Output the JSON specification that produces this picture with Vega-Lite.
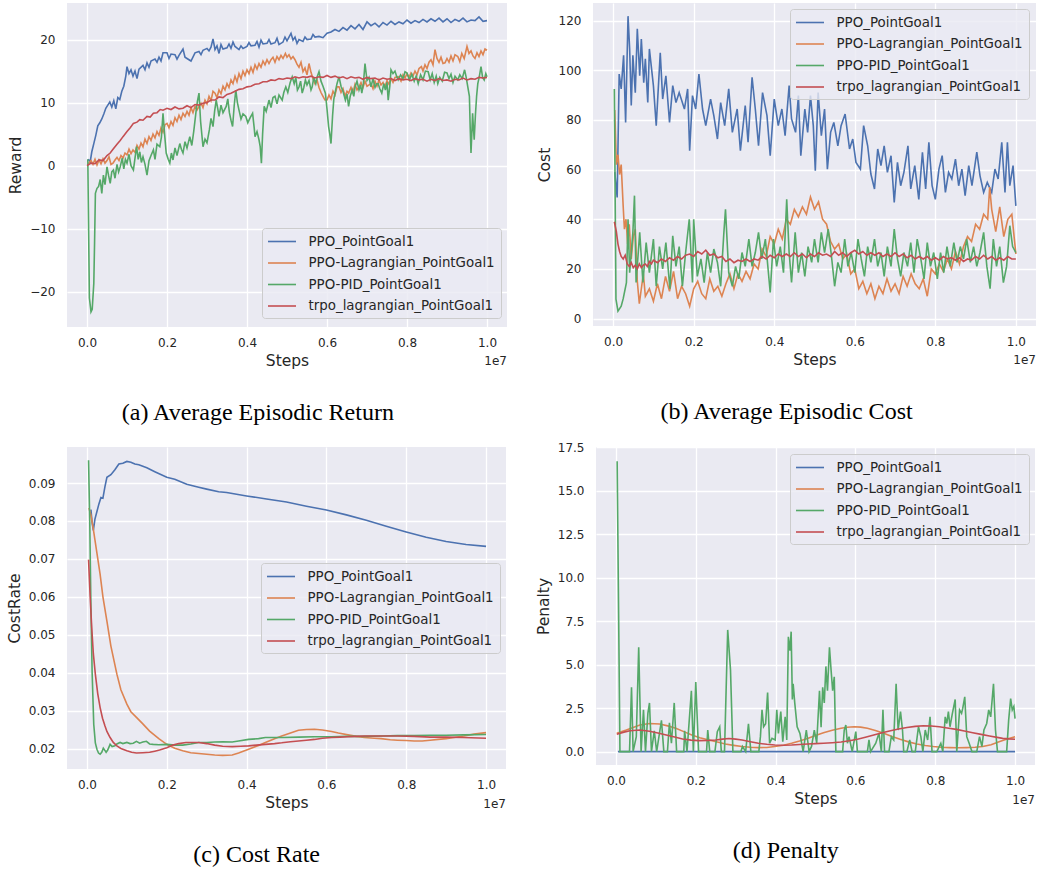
{
"$schema": "https://vega.github.io/schema/vega-lite/v6.json",
"background": "white",
"padding": {"left": 7, "top": 3, "right": 0, "bottom": 0},
"config": {
 "view": {"fill": "#EAEAF2", "stroke": null},
 "axis": {"domain": false, "ticks": false, "grid": true, "gridColor": "white", "gridWidth": 1.3, "labelFont": "DejaVu Sans", "labelFontSize": 12, "labelColor": "#262626", "titleFont": "DejaVu Sans", "titleFontSize": 15.5, "titleFontWeight": "normal", "titleColor": "#262626", "labelOverlap": false, "labelFlush": false},
 "axisX": {"labelPadding": 10, "titlePadding": 5},
 "axisY": {"labelPadding": 12, "titlePadding": 6},
 "legend": {"labelFont": "DejaVu Sans", "labelFontSize": 13.4, "labelColor": "#262626", "labelLimit": 400, "symbolSize": 196, "symbolStrokeWidth": 1.6, "fillColor": "rgba(234,234,242,0.8)", "strokeColor": "#CCCCCC", "cornerRadius": 3, "padding": 5.5, "rowPadding": 6.5, "labelOffset": 18.5, "symbolOffset": 6.5},
 "line": {"strokeWidth": 1.6},
 "title": {"font": "Liberation Serif", "fontSize": 24, "fontWeight": "normal", "color": "black", "orient": "bottom", "anchor": "middle", "frame": "bounds", "offset": 32}
},
"datasets": {
"a_ppo": [{"x":0.003,"y":1.0},{"x":0.008,"y":0.6},{"x":0.012,"y":2.2},{"x":0.017,"y":3.5},{"x":0.022,"y":4.8},{"x":0.027,"y":6.3},{"x":0.032,"y":6.8},{"x":0.037,"y":7.4},{"x":0.042,"y":8.2},{"x":0.047,"y":9.1},{"x":0.052,"y":9.6},{"x":0.057,"y":10.1},{"x":0.062,"y":9.3},{"x":0.067,"y":10.3},{"x":0.072,"y":9.0},{"x":0.077,"y":10.8},{"x":0.082,"y":10.5},{"x":0.087,"y":11.8},{"x":0.092,"y":12.6},{"x":0.097,"y":14.2},{"x":0.1,"y":15.7},{"x":0.105,"y":14.6},{"x":0.11,"y":15.2},{"x":0.115,"y":14.2},{"x":0.12,"y":15.0},{"x":0.125,"y":13.8},{"x":0.13,"y":15.3},{"x":0.14,"y":15.9},{"x":0.145,"y":15.2},{"x":0.15,"y":16.3},{"x":0.155,"y":15.6},{"x":0.16,"y":16.6},{"x":0.17,"y":16.9},{"x":0.175,"y":16.4},{"x":0.18,"y":17.2},{"x":0.185,"y":16.6},{"x":0.19,"y":17.9},{"x":0.2,"y":17.9},{"x":0.205,"y":17.0},{"x":0.21,"y":17.7},{"x":0.22,"y":17.6},{"x":0.225,"y":16.9},{"x":0.23,"y":17.5},{"x":0.24,"y":18.5},{"x":0.245,"y":17.2},{"x":0.25,"y":17.0},{"x":0.26,"y":16.6},{"x":0.27,"y":17.9},{"x":0.28,"y":18.1},{"x":0.285,"y":17.6},{"x":0.29,"y":18.3},{"x":0.3,"y":18.6},{"x":0.305,"y":18.2},{"x":0.31,"y":18.8},{"x":0.315,"y":20.1},{"x":0.32,"y":18.4},{"x":0.325,"y":19.0},{"x":0.33,"y":17.8},{"x":0.335,"y":19.2},{"x":0.34,"y":18.5},{"x":0.35,"y":18.7},{"x":0.355,"y":19.3},{"x":0.36,"y":18.6},{"x":0.365,"y":19.6},{"x":0.37,"y":18.9},{"x":0.38,"y":18.4},{"x":0.385,"y":19.0},{"x":0.39,"y":18.6},{"x":0.4,"y":18.9},{"x":0.405,"y":19.5},{"x":0.41,"y":19.0},{"x":0.42,"y":19.1},{"x":0.425,"y":19.7},{"x":0.43,"y":18.8},{"x":0.435,"y":19.9},{"x":0.44,"y":19.3},{"x":0.45,"y":19.4},{"x":0.455,"y":20.0},{"x":0.46,"y":19.3},{"x":0.47,"y":19.5},{"x":0.475,"y":20.2},{"x":0.48,"y":19.2},{"x":0.49,"y":19.6},{"x":0.495,"y":20.4},{"x":0.5,"y":19.8},{"x":0.51,"y":21.0},{"x":0.515,"y":19.9},{"x":0.52,"y":20.4},{"x":0.525,"y":19.4},{"x":0.53,"y":20.0},{"x":0.54,"y":19.7},{"x":0.545,"y":20.4},{"x":0.55,"y":20.0},{"x":0.56,"y":20.1},{"x":0.565,"y":20.8},{"x":0.57,"y":20.4},{"x":0.58,"y":20.5},{"x":0.59,"y":20.3},{"x":0.6,"y":21.0},{"x":0.61,"y":21.2},{"x":0.62,"y":21.6},{"x":0.63,"y":21.3},{"x":0.64,"y":21.9},{"x":0.65,"y":21.5},{"x":0.66,"y":22.2},{"x":0.67,"y":21.7},{"x":0.68,"y":22.4},{"x":0.69,"y":21.6},{"x":0.7,"y":22.8},{"x":0.71,"y":22.2},{"x":0.72,"y":22.6},{"x":0.73,"y":22.0},{"x":0.74,"y":22.7},{"x":0.75,"y":22.3},{"x":0.76,"y":22.9},{"x":0.77,"y":22.4},{"x":0.78,"y":22.8},{"x":0.79,"y":22.5},{"x":0.8,"y":23.1},{"x":0.81,"y":22.6},{"x":0.82,"y":23.0},{"x":0.83,"y":22.7},{"x":0.84,"y":23.2},{"x":0.85,"y":22.8},{"x":0.86,"y":23.3},{"x":0.87,"y":22.9},{"x":0.88,"y":23.4},{"x":0.89,"y":22.8},{"x":0.9,"y":23.3},{"x":0.91,"y":22.7},{"x":0.92,"y":23.2},{"x":0.93,"y":22.9},{"x":0.94,"y":23.4},{"x":0.95,"y":22.8},{"x":0.96,"y":23.1},{"x":0.97,"y":23.0},{"x":0.98,"y":23.6},{"x":0.99,"y":22.9},{"x":1.0,"y":23.0}],
"a_lag": [{"x":0.003,"y":0.3},{"x":0.01,"y":0.8},{"x":0.015,"y":0.2},{"x":0.02,"y":1.0},{"x":0.025,"y":0.1},{"x":0.03,"y":0.9},{"x":0.035,"y":0.3},{"x":0.04,"y":1.1},{"x":0.045,"y":0.4},{"x":0.05,"y":0.8},{"x":0.055,"y":1.4},{"x":0.06,"y":0.2},{"x":0.065,"y":0.4},{"x":0.07,"y":0.9},{"x":0.075,"y":1.3},{"x":0.08,"y":0.8},{"x":0.085,"y":1.6},{"x":0.09,"y":1.2},{"x":0.095,"y":2.0},{"x":0.1,"y":1.7},{"x":0.105,"y":2.6},{"x":0.11,"y":1.9},{"x":0.115,"y":2.5},{"x":0.12,"y":2.1},{"x":0.125,"y":3.2},{"x":0.13,"y":2.6},{"x":0.135,"y":3.6},{"x":0.14,"y":3.0},{"x":0.145,"y":4.2},{"x":0.15,"y":3.5},{"x":0.155,"y":4.6},{"x":0.16,"y":4.0},{"x":0.165,"y":5.0},{"x":0.17,"y":4.4},{"x":0.175,"y":5.4},{"x":0.18,"y":4.8},{"x":0.185,"y":6.0},{"x":0.19,"y":5.3},{"x":0.195,"y":6.5},{"x":0.2,"y":6.7},{"x":0.205,"y":6.0},{"x":0.21,"y":7.0},{"x":0.215,"y":6.4},{"x":0.22,"y":7.6},{"x":0.225,"y":7.0},{"x":0.23,"y":8.0},{"x":0.235,"y":7.3},{"x":0.24,"y":8.3},{"x":0.245,"y":7.8},{"x":0.25,"y":8.6},{"x":0.255,"y":8.0},{"x":0.26,"y":9.2},{"x":0.265,"y":8.4},{"x":0.27,"y":9.4},{"x":0.275,"y":8.8},{"x":0.28,"y":9.4},{"x":0.285,"y":9.9},{"x":0.29,"y":9.2},{"x":0.295,"y":10.4},{"x":0.3,"y":9.8},{"x":0.305,"y":11.0},{"x":0.31,"y":10.3},{"x":0.315,"y":11.8},{"x":0.32,"y":11.5},{"x":0.325,"y":10.8},{"x":0.33,"y":12.0},{"x":0.335,"y":11.4},{"x":0.34,"y":12.6},{"x":0.345,"y":12.0},{"x":0.35,"y":13.0},{"x":0.355,"y":12.4},{"x":0.36,"y":13.6},{"x":0.365,"y":13.0},{"x":0.37,"y":14.2},{"x":0.375,"y":13.3},{"x":0.38,"y":14.6},{"x":0.385,"y":13.8},{"x":0.39,"y":15.0},{"x":0.395,"y":14.3},{"x":0.4,"y":15.2},{"x":0.405,"y":14.6},{"x":0.41,"y":15.6},{"x":0.415,"y":14.8},{"x":0.42,"y":16.0},{"x":0.425,"y":15.3},{"x":0.43,"y":16.2},{"x":0.435,"y":15.6},{"x":0.44,"y":16.6},{"x":0.445,"y":16.0},{"x":0.45,"y":16.8},{"x":0.455,"y":16.2},{"x":0.46,"y":16.8},{"x":0.465,"y":17.2},{"x":0.47,"y":16.4},{"x":0.475,"y":17.3},{"x":0.48,"y":16.8},{"x":0.485,"y":17.5},{"x":0.49,"y":17.0},{"x":0.496,"y":17.8},{"x":0.5,"y":17.2},{"x":0.505,"y":17.6},{"x":0.51,"y":16.9},{"x":0.515,"y":17.3},{"x":0.52,"y":16.8},{"x":0.525,"y":16.1},{"x":0.53,"y":15.6},{"x":0.535,"y":16.4},{"x":0.54,"y":14.9},{"x":0.545,"y":15.5},{"x":0.55,"y":14.4},{"x":0.555,"y":16.2},{"x":0.56,"y":14.8},{"x":0.565,"y":13.8},{"x":0.57,"y":13.0},{"x":0.575,"y":13.6},{"x":0.58,"y":12.4},{"x":0.585,"y":11.6},{"x":0.59,"y":11.0},{"x":0.595,"y":10.4},{"x":0.6,"y":10.4},{"x":0.605,"y":11.2},{"x":0.61,"y":10.6},{"x":0.615,"y":11.8},{"x":0.62,"y":11.2},{"x":0.625,"y":12.5},{"x":0.63,"y":12.5},{"x":0.635,"y":11.6},{"x":0.64,"y":12.2},{"x":0.645,"y":11.0},{"x":0.65,"y":11.8},{"x":0.654,"y":11.5},{"x":0.66,"y":12.4},{"x":0.665,"y":11.6},{"x":0.67,"y":12.9},{"x":0.675,"y":12.0},{"x":0.68,"y":12.5},{"x":0.685,"y":13.2},{"x":0.69,"y":12.4},{"x":0.695,"y":13.4},{"x":0.7,"y":12.6},{"x":0.71,"y":13.0},{"x":0.715,"y":12.2},{"x":0.72,"y":13.4},{"x":0.725,"y":12.6},{"x":0.73,"y":13.6},{"x":0.735,"y":12.8},{"x":0.74,"y":13.2},{"x":0.745,"y":12.5},{"x":0.75,"y":13.5},{"x":0.755,"y":12.9},{"x":0.76,"y":13.8},{"x":0.765,"y":13.2},{"x":0.77,"y":14.0},{"x":0.778,"y":14.1},{"x":0.785,"y":13.4},{"x":0.79,"y":14.4},{"x":0.795,"y":13.9},{"x":0.8,"y":14.6},{"x":0.805,"y":14.0},{"x":0.81,"y":14.7},{"x":0.815,"y":14.2},{"x":0.82,"y":15.0},{"x":0.825,"y":14.4},{"x":0.83,"y":15.4},{"x":0.836,"y":15.7},{"x":0.84,"y":15.0},{"x":0.845,"y":16.0},{"x":0.85,"y":15.4},{"x":0.855,"y":16.4},{"x":0.86,"y":16.8},{"x":0.865,"y":16.0},{"x":0.87,"y":18.4},{"x":0.875,"y":17.0},{"x":0.88,"y":16.4},{"x":0.885,"y":17.2},{"x":0.89,"y":16.2},{"x":0.895,"y":16.3},{"x":0.9,"y":17.0},{"x":0.905,"y":16.4},{"x":0.91,"y":17.4},{"x":0.915,"y":16.6},{"x":0.92,"y":17.6},{"x":0.927,"y":17.3},{"x":0.932,"y":16.5},{"x":0.937,"y":17.8},{"x":0.943,"y":17.0},{"x":0.95,"y":18.9},{"x":0.955,"y":17.8},{"x":0.96,"y":18.2},{"x":0.965,"y":17.4},{"x":0.97,"y":17.0},{"x":0.975,"y":17.9},{"x":0.98,"y":17.3},{"x":0.985,"y":18.2},{"x":0.99,"y":17.6},{"x":0.995,"y":18.5},{"x":1.0,"y":18.3}],
"a_pid": [{"x":0.002,"y":1.0},{"x":0.004,"y":-10},{"x":0.006,"y":-21},{"x":0.01,"y":-23.2},{"x":0.013,"y":-22.8},{"x":0.017,"y":-18.7},{"x":0.019,"y":-12},{"x":0.021,"y":-4.4},{"x":0.025,"y":-3.6},{"x":0.029,"y":-3.3},{"x":0.033,"y":-2.2},{"x":0.037,"y":-4.4},{"x":0.041,"y":-1.5},{"x":0.045,"y":-3.0},{"x":0.05,"y":-0.2},{"x":0.054,"y":-1.6},{"x":0.058,"y":-2.8},{"x":0.062,"y":-1.0},{"x":0.066,"y":-0.7},{"x":0.07,"y":-2.0},{"x":0.075,"y":0.2},{"x":0.079,"y":-1.0},{"x":0.083,"y":-0.2},{"x":0.088,"y":1.2},{"x":0.092,"y":-0.5},{"x":0.096,"y":1.0},{"x":0.1,"y":0.4},{"x":0.105,"y":1.8},{"x":0.11,"y":0.0},{"x":0.116,"y":-0.7},{"x":0.12,"y":1.2},{"x":0.124,"y":3.0},{"x":0.128,"y":1.0},{"x":0.132,"y":2.2},{"x":0.136,"y":0.5},{"x":0.14,"y":1.4},{"x":0.145,"y":0.2},{"x":0.15,"y":-1.5},{"x":0.155,"y":0.8},{"x":0.16,"y":1.6},{"x":0.166,"y":2.5},{"x":0.17,"y":1.0},{"x":0.175,"y":3.4},{"x":0.182,"y":3.0},{"x":0.186,"y":4.5},{"x":0.19,"y":8.3},{"x":0.194,"y":5.0},{"x":0.198,"y":2.0},{"x":0.203,"y":1.0},{"x":0.207,"y":0.4},{"x":0.211,"y":2.0},{"x":0.215,"y":0.9},{"x":0.22,"y":2.8},{"x":0.225,"y":1.6},{"x":0.232,"y":3.5},{"x":0.236,"y":2.6},{"x":0.24,"y":2.0},{"x":0.245,"y":3.8},{"x":0.25,"y":2.8},{"x":0.257,"y":4.6},{"x":0.262,"y":3.2},{"x":0.267,"y":5.5},{"x":0.273,"y":8.8},{"x":0.276,"y":10.2},{"x":0.28,"y":11.5},{"x":0.284,"y":7.0},{"x":0.29,"y":3.0},{"x":0.295,"y":4.2},{"x":0.3,"y":3.6},{"x":0.306,"y":5.7},{"x":0.31,"y":7.5},{"x":0.315,"y":6.2},{"x":0.319,"y":8.6},{"x":0.323,"y":10.4},{"x":0.327,"y":9.0},{"x":0.33,"y":7.8},{"x":0.335,"y":9.6},{"x":0.34,"y":8.4},{"x":0.348,"y":9.4},{"x":0.352,"y":10.6},{"x":0.356,"y":8.4},{"x":0.36,"y":7.2},{"x":0.364,"y":6.2},{"x":0.368,"y":9.5},{"x":0.372,"y":12.0},{"x":0.376,"y":10.0},{"x":0.38,"y":8.8},{"x":0.385,"y":7.4},{"x":0.39,"y":8.2},{"x":0.397,"y":7.8},{"x":0.402,"y":6.8},{"x":0.408,"y":7.6},{"x":0.414,"y":8.3},{"x":0.418,"y":6.0},{"x":0.42,"y":4.6},{"x":0.425,"y":5.4},{"x":0.43,"y":4.1},{"x":0.433,"y":3.0},{"x":0.436,"y":0.4},{"x":0.439,"y":5.0},{"x":0.443,"y":9.4},{"x":0.448,"y":8.6},{"x":0.455,"y":10.4},{"x":0.46,"y":9.2},{"x":0.465,"y":10.8},{"x":0.47,"y":11.0},{"x":0.475,"y":9.8},{"x":0.48,"y":11.2},{"x":0.488,"y":10.4},{"x":0.492,"y":11.6},{"x":0.497,"y":12.5},{"x":0.502,"y":11.6},{"x":0.508,"y":13.2},{"x":0.513,"y":14.1},{"x":0.518,"y":13.0},{"x":0.522,"y":14.0},{"x":0.526,"y":12.0},{"x":0.53,"y":12.5},{"x":0.534,"y":13.4},{"x":0.538,"y":11.5},{"x":0.542,"y":12.4},{"x":0.546,"y":13.6},{"x":0.55,"y":12.8},{"x":0.555,"y":13.5},{"x":0.56,"y":12.0},{"x":0.563,"y":12.5},{"x":0.567,"y":14.0},{"x":0.572,"y":13.0},{"x":0.576,"y":14.2},{"x":0.58,"y":14.9},{"x":0.585,"y":13.4},{"x":0.59,"y":12.6},{"x":0.596,"y":11.5},{"x":0.6,"y":9.0},{"x":0.604,"y":6.2},{"x":0.607,"y":5.0},{"x":0.61,"y":3.5},{"x":0.614,"y":8.0},{"x":0.617,"y":10.5},{"x":0.62,"y":11.5},{"x":0.625,"y":13.0},{"x":0.63,"y":14.1},{"x":0.635,"y":12.6},{"x":0.64,"y":11.8},{"x":0.646,"y":10.4},{"x":0.65,"y":11.4},{"x":0.654,"y":9.4},{"x":0.658,"y":11.0},{"x":0.663,"y":12.0},{"x":0.667,"y":11.0},{"x":0.67,"y":12.5},{"x":0.675,"y":13.4},{"x":0.68,"y":12.0},{"x":0.684,"y":12.8},{"x":0.687,"y":11.5},{"x":0.691,"y":13.0},{"x":0.695,"y":16.2},{"x":0.7,"y":13.5},{"x":0.705,"y":14.0},{"x":0.71,"y":12.5},{"x":0.715,"y":13.8},{"x":0.72,"y":12.4},{"x":0.724,"y":13.0},{"x":0.728,"y":13.0},{"x":0.732,"y":12.2},{"x":0.737,"y":11.5},{"x":0.742,"y":13.0},{"x":0.746,"y":12.0},{"x":0.75,"y":13.2},{"x":0.753,"y":10.4},{"x":0.757,"y":12.6},{"x":0.76,"y":15.2},{"x":0.765,"y":14.6},{"x":0.77,"y":15.0},{"x":0.774,"y":14.2},{"x":0.778,"y":13.6},{"x":0.784,"y":14.4},{"x":0.79,"y":13.8},{"x":0.795,"y":14.9},{"x":0.8,"y":14.7},{"x":0.806,"y":13.6},{"x":0.812,"y":14.5},{"x":0.818,"y":13.4},{"x":0.823,"y":14.2},{"x":0.828,"y":13.0},{"x":0.834,"y":14.4},{"x":0.84,"y":13.6},{"x":0.846,"y":15.0},{"x":0.853,"y":14.9},{"x":0.858,"y":13.6},{"x":0.863,"y":14.6},{"x":0.868,"y":13.2},{"x":0.873,"y":14.2},{"x":0.877,"y":13.0},{"x":0.882,"y":14.0},{"x":0.888,"y":13.4},{"x":0.894,"y":14.8},{"x":0.9,"y":14.7},{"x":0.905,"y":13.8},{"x":0.91,"y":14.5},{"x":0.915,"y":13.2},{"x":0.92,"y":14.2},{"x":0.927,"y":13.6},{"x":0.932,"y":14.4},{"x":0.938,"y":13.8},{"x":0.944,"y":15.2},{"x":0.948,"y":14.0},{"x":0.952,"y":12.5},{"x":0.956,"y":11.0},{"x":0.958,"y":6.0},{"x":0.96,"y":2.0},{"x":0.962,"y":5.0},{"x":0.964,"y":8.3},{"x":0.966,"y":6.0},{"x":0.968,"y":4.1},{"x":0.971,"y":8.0},{"x":0.974,"y":11.0},{"x":0.977,"y":13.0},{"x":0.981,"y":14.2},{"x":0.985,"y":15.7},{"x":0.989,"y":14.0},{"x":0.993,"y":13.6},{"x":0.997,"y":14.6},{"x":1.0,"y":14.1}],
"a_trpo": [{"x":0.0,"y":0.0},{"x":0.01,"y":0.4},{"x":0.02,"y":0.3},{"x":0.03,"y":0.9},{"x":0.04,"y":0.8},{"x":0.05,"y":1.6},{"x":0.058,"y":2.0},{"x":0.065,"y":2.6},{"x":0.075,"y":3.4},{"x":0.083,"y":4.0},{"x":0.09,"y":4.6},{"x":0.1,"y":5.4},{"x":0.108,"y":6.0},{"x":0.116,"y":6.7},{"x":0.125,"y":6.9},{"x":0.132,"y":7.3},{"x":0.14,"y":7.2},{"x":0.15,"y":7.8},{"x":0.158,"y":7.7},{"x":0.166,"y":8.3},{"x":0.175,"y":8.4},{"x":0.183,"y":8.9},{"x":0.19,"y":8.8},{"x":0.2,"y":9.1},{"x":0.21,"y":8.9},{"x":0.22,"y":9.3},{"x":0.23,"y":9.0},{"x":0.24,"y":9.1},{"x":0.25,"y":9.5},{"x":0.26,"y":9.2},{"x":0.27,"y":9.7},{"x":0.28,"y":9.6},{"x":0.29,"y":9.9},{"x":0.3,"y":10.0},{"x":0.31,"y":10.4},{"x":0.32,"y":10.4},{"x":0.33,"y":10.9},{"x":0.34,"y":10.8},{"x":0.35,"y":11.3},{"x":0.36,"y":11.5},{"x":0.37,"y":11.8},{"x":0.38,"y":12.1},{"x":0.39,"y":12.2},{"x":0.4,"y":12.5},{"x":0.41,"y":12.6},{"x":0.42,"y":12.9},{"x":0.43,"y":13.0},{"x":0.44,"y":13.3},{"x":0.45,"y":13.3},{"x":0.46,"y":13.6},{"x":0.47,"y":13.5},{"x":0.48,"y":13.8},{"x":0.49,"y":13.7},{"x":0.5,"y":13.9},{"x":0.51,"y":13.8},{"x":0.52,"y":14.1},{"x":0.53,"y":13.9},{"x":0.54,"y":14.1},{"x":0.55,"y":14.0},{"x":0.56,"y":14.2},{"x":0.57,"y":13.9},{"x":0.58,"y":14.1},{"x":0.59,"y":14.0},{"x":0.6,"y":14.3},{"x":0.61,"y":14.0},{"x":0.62,"y":14.2},{"x":0.63,"y":13.9},{"x":0.64,"y":14.1},{"x":0.65,"y":13.8},{"x":0.66,"y":14.1},{"x":0.67,"y":13.9},{"x":0.68,"y":14.0},{"x":0.69,"y":13.7},{"x":0.7,"y":14.0},{"x":0.71,"y":13.8},{"x":0.72,"y":13.9},{"x":0.73,"y":13.6},{"x":0.74,"y":13.9},{"x":0.75,"y":13.7},{"x":0.76,"y":13.8},{"x":0.77,"y":13.5},{"x":0.78,"y":13.8},{"x":0.79,"y":13.6},{"x":0.8,"y":13.7},{"x":0.81,"y":13.5},{"x":0.82,"y":13.8},{"x":0.83,"y":13.6},{"x":0.84,"y":13.7},{"x":0.85,"y":13.4},{"x":0.86,"y":13.7},{"x":0.87,"y":13.5},{"x":0.88,"y":13.8},{"x":0.89,"y":13.5},{"x":0.9,"y":13.6},{"x":0.91,"y":13.4},{"x":0.92,"y":13.7},{"x":0.93,"y":13.6},{"x":0.94,"y":13.9},{"x":0.95,"y":13.6},{"x":0.96,"y":13.8},{"x":0.97,"y":13.7},{"x":0.98,"y":14.0},{"x":0.99,"y":13.9},{"x":1.0,"y":14.0}],
"b_ppo": [{"x":0.004,"y":59},{"x":0.01,"y":48.8},{"x":0.015,"y":98.5},{"x":0.02,"y":92.5},{"x":0.026,"y":106},{"x":0.031,"y":79},{"x":0.037,"y":121.8},{"x":0.041,"y":108.6},{"x":0.045,"y":85.8},{"x":0.049,"y":106},{"x":0.055,"y":91},{"x":0.06,"y":116.7},{"x":0.066,"y":97.8},{"x":0.07,"y":112.6},{"x":0.076,"y":95},{"x":0.08,"y":104.6},{"x":0.086,"y":87},{"x":0.09,"y":108.6},{"x":0.1,"y":93.8},{"x":0.107,"y":77.7},{"x":0.117,"y":107},{"x":0.123,"y":88.4},{"x":0.131,"y":97.8},{"x":0.14,"y":79},{"x":0.148,"y":93.8},{"x":0.156,"y":87},{"x":0.164,"y":91},{"x":0.177,"y":84.4},{"x":0.185,"y":92.5},{"x":0.19,"y":67.6},{"x":0.197,"y":89.8},{"x":0.205,"y":84.4},{"x":0.213,"y":98.5},{"x":0.222,"y":84.4},{"x":0.23,"y":77.7},{"x":0.242,"y":88.4},{"x":0.25,"y":81.7},{"x":0.259,"y":72.3},{"x":0.267,"y":87},{"x":0.277,"y":77.7},{"x":0.287,"y":92.5},{"x":0.296,"y":75},{"x":0.308,"y":84.4},{"x":0.316,"y":67.6},{"x":0.328,"y":85.8},{"x":0.335,"y":71},{"x":0.345,"y":97.2},{"x":0.353,"y":84.4},{"x":0.361,"y":69.6},{"x":0.371,"y":91},{"x":0.382,"y":81.7},{"x":0.39,"y":65.6},{"x":0.4,"y":88.4},{"x":0.41,"y":77.7},{"x":0.419,"y":84.4},{"x":0.427,"y":73.7},{"x":0.437,"y":93.8},{"x":0.443,"y":80.4},{"x":0.453,"y":75},{"x":0.46,"y":89.8},{"x":0.466,"y":65.6},{"x":0.476,"y":84.4},{"x":0.483,"y":75},{"x":0.49,"y":89.8},{"x":0.497,"y":77.7},{"x":0.502,"y":59.5},{"x":0.509,"y":91},{"x":0.517,"y":73.7},{"x":0.525,"y":84.4},{"x":0.532,"y":60.2},{"x":0.54,"y":75},{"x":0.548,"y":79},{"x":0.558,"y":69.6},{"x":0.566,"y":77.7},{"x":0.576,"y":82.4},{"x":0.587,"y":68.3},{"x":0.595,"y":72.3},{"x":0.603,"y":62.9},{"x":0.614,"y":60.2},{"x":0.622,"y":77.7},{"x":0.632,"y":69.6},{"x":0.64,"y":58.2},{"x":0.649,"y":52.2},{"x":0.657,"y":68.3},{"x":0.665,"y":61.6},{"x":0.673,"y":69.6},{"x":0.681,"y":58.9},{"x":0.69,"y":65.6},{"x":0.698,"y":46.8},{"x":0.706,"y":62.9},{"x":0.714,"y":53.5},{"x":0.722,"y":58.9},{"x":0.732,"y":69.6},{"x":0.739,"y":52.2},{"x":0.749,"y":61.6},{"x":0.759,"y":48},{"x":0.768,"y":67},{"x":0.776,"y":52.2},{"x":0.784,"y":71},{"x":0.792,"y":53.5},{"x":0.8,"y":48},{"x":0.809,"y":60.2},{"x":0.817,"y":65.6},{"x":0.825,"y":50.8},{"x":0.833,"y":58.9},{"x":0.841,"y":56.2},{"x":0.85,"y":64.2},{"x":0.858,"y":53.5},{"x":0.866,"y":60.2},{"x":0.874,"y":49.5},{"x":0.883,"y":61.6},{"x":0.891,"y":53.5},{"x":0.903,"y":67},{"x":0.911,"y":57.5},{"x":0.92,"y":50.8},{"x":0.929,"y":54.8},{"x":0.94,"y":50.8},{"x":0.948,"y":60.2},{"x":0.956,"y":56.2},{"x":0.965,"y":71},{"x":0.973,"y":50.8},{"x":0.979,"y":71},{"x":0.985,"y":53.5},{"x":0.993,"y":61.6},{"x":1.0,"y":45.4}],
"b_lag": [{"x":0.004,"y":84},{"x":0.008,"y":62},{"x":0.012,"y":66},{"x":0.016,"y":58},{"x":0.02,"y":62},{"x":0.025,"y":45},{"x":0.028,"y":36},{"x":0.032,"y":40},{"x":0.036,"y":30},{"x":0.04,"y":38},{"x":0.045,"y":24},{"x":0.05,"y":33},{"x":0.055,"y":36},{"x":0.06,"y":15},{"x":0.065,"y":6},{"x":0.07,"y":12},{"x":0.075,"y":18},{"x":0.08,"y":9},{"x":0.09,"y":12},{"x":0.1,"y":7},{"x":0.11,"y":14},{"x":0.12,"y":8},{"x":0.13,"y":17},{"x":0.14,"y":11},{"x":0.15,"y":19},{"x":0.16,"y":8},{"x":0.17,"y":13},{"x":0.18,"y":10},{"x":0.19,"y":5},{"x":0.2,"y":12},{"x":0.21,"y":15},{"x":0.22,"y":10},{"x":0.23,"y":8},{"x":0.24,"y":16},{"x":0.25,"y":11},{"x":0.26,"y":13},{"x":0.27,"y":9},{"x":0.28,"y":14},{"x":0.29,"y":18},{"x":0.3,"y":12},{"x":0.31,"y":18},{"x":0.32,"y":15},{"x":0.33,"y":19},{"x":0.34,"y":16},{"x":0.35,"y":22},{"x":0.36,"y":20},{"x":0.37,"y":28},{"x":0.38,"y":25},{"x":0.39,"y":33},{"x":0.4,"y":30},{"x":0.41,"y":36},{"x":0.42,"y":32},{"x":0.43,"y":40},{"x":0.44,"y":38},{"x":0.45,"y":44},{"x":0.46,"y":41},{"x":0.47,"y":45},{"x":0.48,"y":42},{"x":0.49,"y":49},{"x":0.5,"y":44},{"x":0.51,"y":47},{"x":0.52,"y":40},{"x":0.53,"y":38},{"x":0.54,"y":31},{"x":0.55,"y":28},{"x":0.56,"y":30},{"x":0.57,"y":24},{"x":0.58,"y":26},{"x":0.59,"y":18},{"x":0.6,"y":20},{"x":0.61,"y":12},{"x":0.62,"y":15},{"x":0.63,"y":10},{"x":0.64,"y":14},{"x":0.65,"y":8},{"x":0.66,"y":13},{"x":0.67,"y":10},{"x":0.68,"y":16},{"x":0.69,"y":11},{"x":0.7,"y":14},{"x":0.71,"y":10},{"x":0.72,"y":17},{"x":0.73,"y":13},{"x":0.74,"y":18},{"x":0.75,"y":14},{"x":0.76,"y":12},{"x":0.77,"y":16},{"x":0.78,"y":9},{"x":0.79,"y":20},{"x":0.8,"y":18},{"x":0.81,"y":22},{"x":0.82,"y":19},{"x":0.83,"y":24},{"x":0.84,"y":20},{"x":0.85,"y":27},{"x":0.86,"y":22},{"x":0.87,"y":29},{"x":0.88,"y":33},{"x":0.89,"y":31},{"x":0.9,"y":38},{"x":0.91,"y":36},{"x":0.92,"y":42},{"x":0.93,"y":40},{"x":0.935,"y":53},{"x":0.94,"y":44},{"x":0.95,"y":35},{"x":0.96,"y":45},{"x":0.97,"y":33},{"x":0.98,"y":40},{"x":0.99,"y":42},{"x":1.0,"y":26}],
"b_pid": [{"x":0.003,"y":92.5},{"x":0.007,"y":7.8},{"x":0.012,"y":3},{"x":0.02,"y":5},{"x":0.025,"y":8},{"x":0.033,"y":14.5},{"x":0.037,"y":40},{"x":0.041,"y":18.5},{"x":0.049,"y":34.7},{"x":0.053,"y":49.5},{"x":0.057,"y":14.5},{"x":0.066,"y":34.7},{"x":0.074,"y":14.5},{"x":0.082,"y":30.6},{"x":0.09,"y":18.5},{"x":0.1,"y":32},{"x":0.107,"y":13},{"x":0.115,"y":29},{"x":0.123,"y":20},{"x":0.131,"y":30.6},{"x":0.141,"y":12},{"x":0.148,"y":33.3},{"x":0.156,"y":21},{"x":0.164,"y":29},{"x":0.172,"y":13},{"x":0.18,"y":26.6},{"x":0.189,"y":40},{"x":0.197,"y":14.5},{"x":0.2,"y":40},{"x":0.209,"y":17},{"x":0.218,"y":24},{"x":0.226,"y":14.5},{"x":0.234,"y":26.6},{"x":0.242,"y":18.5},{"x":0.25,"y":28},{"x":0.259,"y":22.6},{"x":0.267,"y":13},{"x":0.275,"y":34.7},{"x":0.279,"y":44},{"x":0.287,"y":18.5},{"x":0.296,"y":13},{"x":0.304,"y":21},{"x":0.312,"y":16},{"x":0.32,"y":26.6},{"x":0.328,"y":21},{"x":0.337,"y":32},{"x":0.345,"y":21},{"x":0.353,"y":26.6},{"x":0.361,"y":34.7},{"x":0.369,"y":24},{"x":0.378,"y":32},{"x":0.39,"y":10.5},{"x":0.398,"y":32},{"x":0.406,"y":21},{"x":0.415,"y":29},{"x":0.423,"y":18.5},{"x":0.431,"y":48},{"x":0.437,"y":26.6},{"x":0.443,"y":14.5},{"x":0.452,"y":34.7},{"x":0.46,"y":18.5},{"x":0.468,"y":26.6},{"x":0.476,"y":17},{"x":0.484,"y":29},{"x":0.493,"y":22.6},{"x":0.5,"y":32},{"x":0.509,"y":22.6},{"x":0.517,"y":34.7},{"x":0.525,"y":26.6},{"x":0.534,"y":36},{"x":0.542,"y":25.3},{"x":0.55,"y":13},{"x":0.558,"y":22.6},{"x":0.566,"y":18.5},{"x":0.575,"y":32},{"x":0.583,"y":21},{"x":0.591,"y":26.6},{"x":0.6,"y":18.5},{"x":0.608,"y":32},{"x":0.616,"y":24},{"x":0.624,"y":17},{"x":0.632,"y":29},{"x":0.64,"y":22.6},{"x":0.649,"y":32},{"x":0.657,"y":21},{"x":0.665,"y":26.6},{"x":0.673,"y":17},{"x":0.681,"y":29},{"x":0.69,"y":21},{"x":0.698,"y":36},{"x":0.706,"y":24},{"x":0.714,"y":17},{"x":0.722,"y":26.6},{"x":0.731,"y":21},{"x":0.739,"y":30.6},{"x":0.747,"y":18.5},{"x":0.755,"y":32},{"x":0.764,"y":24},{"x":0.772,"y":16},{"x":0.78,"y":30.6},{"x":0.788,"y":21},{"x":0.796,"y":26.6},{"x":0.805,"y":16},{"x":0.813,"y":26.6},{"x":0.821,"y":18.5},{"x":0.829,"y":29},{"x":0.837,"y":21},{"x":0.846,"y":30.6},{"x":0.854,"y":22.6},{"x":0.862,"y":29},{"x":0.87,"y":24},{"x":0.878,"y":32},{"x":0.887,"y":22.6},{"x":0.895,"y":29},{"x":0.903,"y":21},{"x":0.911,"y":26.6},{"x":0.92,"y":34.7},{"x":0.928,"y":21},{"x":0.936,"y":12},{"x":0.944,"y":32},{"x":0.952,"y":21},{"x":0.96,"y":29},{"x":0.969,"y":14.5},{"x":0.977,"y":21},{"x":0.985,"y":37.4},{"x":0.992,"y":29},{"x":1.0,"y":26.6}],
"b_trpo": [{"x":0.003,"y":39},{"x":0.008,"y":35},{"x":0.012,"y":30},{"x":0.016,"y":27},{"x":0.02,"y":25},{"x":0.025,"y":24},{"x":0.03,"y":25.5},{"x":0.035,"y":22},{"x":0.04,"y":21},{"x":0.045,"y":22.5},{"x":0.05,"y":20.5},{"x":0.055,"y":21.5},{"x":0.06,"y":20},{"x":0.065,"y":22},{"x":0.07,"y":20.5},{"x":0.075,"y":21.5},{"x":0.08,"y":22},{"x":0.085,"y":21},{"x":0.09,"y":23},{"x":0.095,"y":22},{"x":0.1,"y":23.5},{"x":0.11,"y":22.5},{"x":0.12,"y":24},{"x":0.13,"y":23},{"x":0.14,"y":24.5},{"x":0.15,"y":23.5},{"x":0.16,"y":25},{"x":0.17,"y":24},{"x":0.18,"y":25.5},{"x":0.19,"y":26},{"x":0.2,"y":25},{"x":0.21,"y":27},{"x":0.22,"y":26},{"x":0.23,"y":27.5},{"x":0.24,"y":25.5},{"x":0.25,"y":26},{"x":0.26,"y":24.5},{"x":0.27,"y":25},{"x":0.28,"y":23},{"x":0.29,"y":24},{"x":0.3,"y":22.5},{"x":0.31,"y":23.5},{"x":0.32,"y":23},{"x":0.33,"y":24},{"x":0.34,"y":23},{"x":0.35,"y":24},{"x":0.36,"y":23.5},{"x":0.37,"y":25},{"x":0.38,"y":24},{"x":0.39,"y":25.5},{"x":0.4,"y":24.5},{"x":0.41,"y":26},{"x":0.42,"y":25},{"x":0.43,"y":26},{"x":0.44,"y":25},{"x":0.45,"y":26.5},{"x":0.46,"y":25},{"x":0.47,"y":26},{"x":0.48,"y":24.5},{"x":0.49,"y":26},{"x":0.5,"y":25},{"x":0.51,"y":26.5},{"x":0.52,"y":25.5},{"x":0.53,"y":26},{"x":0.54,"y":25},{"x":0.55,"y":27},{"x":0.56,"y":25.5},{"x":0.57,"y":26.5},{"x":0.58,"y":25},{"x":0.59,"y":26.5},{"x":0.6,"y":27.5},{"x":0.61,"y":26},{"x":0.62,"y":27},{"x":0.63,"y":25.5},{"x":0.64,"y":26.5},{"x":0.65,"y":25.5},{"x":0.66,"y":26.5},{"x":0.67,"y":25},{"x":0.68,"y":26},{"x":0.69,"y":25},{"x":0.7,"y":26.5},{"x":0.71,"y":25},{"x":0.72,"y":26},{"x":0.73,"y":24.5},{"x":0.74,"y":25.5},{"x":0.75,"y":24},{"x":0.76,"y":25},{"x":0.77,"y":24},{"x":0.78,"y":25},{"x":0.79,"y":23.5},{"x":0.8,"y":24.5},{"x":0.81,"y":23.5},{"x":0.82,"y":25},{"x":0.83,"y":24},{"x":0.84,"y":24.5},{"x":0.85,"y":23.5},{"x":0.86,"y":24.5},{"x":0.87,"y":23},{"x":0.88,"y":24},{"x":0.89,"y":23.5},{"x":0.9,"y":25},{"x":0.91,"y":24},{"x":0.92,"y":25.5},{"x":0.93,"y":24},{"x":0.94,"y":25},{"x":0.95,"y":23.5},{"x":0.96,"y":24.5},{"x":0.97,"y":23.5},{"x":0.98,"y":25},{"x":0.99,"y":24},{"x":1.0,"y":24}],
"c_ppo": [{"x":0.01,"y":0.083},{"x":0.013,"y":0.0795},{"x":0.016,"y":0.0775},{"x":0.02,"y":0.0805},{"x":0.025,"y":0.0825},{"x":0.03,"y":0.0845},{"x":0.035,"y":0.0862},{"x":0.04,"y":0.086},{"x":0.045,"y":0.089},{"x":0.05,"y":0.0915},{"x":0.06,"y":0.0922},{"x":0.07,"y":0.0935},{"x":0.08,"y":0.095},{"x":0.09,"y":0.0952},{"x":0.1,"y":0.0957},{"x":0.11,"y":0.0955},{"x":0.12,"y":0.095},{"x":0.13,"y":0.0948},{"x":0.15,"y":0.094},{"x":0.17,"y":0.093},{"x":0.2,"y":0.0915},{"x":0.22,"y":0.091},{"x":0.25,"y":0.0897},{"x":0.28,"y":0.0889},{"x":0.3,"y":0.0884},{"x":0.33,"y":0.0877},{"x":0.35,"y":0.0875},{"x":0.4,"y":0.0866},{"x":0.45,"y":0.0858},{"x":0.5,"y":0.085},{"x":0.55,"y":0.0839},{"x":0.6,"y":0.0829},{"x":0.65,"y":0.0816},{"x":0.7,"y":0.0802},{"x":0.75,"y":0.0786},{"x":0.8,"y":0.0771},{"x":0.85,"y":0.0757},{"x":0.9,"y":0.0746},{"x":0.95,"y":0.0738},{"x":1.0,"y":0.0733}],
"c_lag": [{"x":0.005,"y":0.0834},{"x":0.01,"y":0.0815},{"x":0.015,"y":0.0785},{"x":0.02,"y":0.075},{"x":0.025,"y":0.0715},{"x":0.033,"y":0.0659},{"x":0.04,"y":0.06},{"x":0.05,"y":0.0536},{"x":0.06,"y":0.047},{"x":0.075,"y":0.0396},{"x":0.085,"y":0.0355},{"x":0.1,"y":0.0317},{"x":0.11,"y":0.0297},{"x":0.124,"y":0.0282},{"x":0.14,"y":0.0265},{"x":0.157,"y":0.0246},{"x":0.18,"y":0.0226},{"x":0.2,"y":0.0211},{"x":0.22,"y":0.0201},{"x":0.24,"y":0.0194},{"x":0.26,"y":0.0189},{"x":0.28,"y":0.0187},{"x":0.3,"y":0.0185},{"x":0.32,"y":0.0183},{"x":0.34,"y":0.0182},{"x":0.364,"y":0.0183},{"x":0.38,"y":0.0188},{"x":0.405,"y":0.0198},{"x":0.43,"y":0.0208},{"x":0.447,"y":0.0216},{"x":0.47,"y":0.0226},{"x":0.488,"y":0.0233},{"x":0.51,"y":0.0241},{"x":0.53,"y":0.0248},{"x":0.55,"y":0.025},{"x":0.57,"y":0.0251},{"x":0.59,"y":0.0249},{"x":0.613,"y":0.0245},{"x":0.63,"y":0.0241},{"x":0.654,"y":0.0236},{"x":0.675,"y":0.0232},{"x":0.695,"y":0.0229},{"x":0.72,"y":0.0227},{"x":0.737,"y":0.0226},{"x":0.76,"y":0.0223},{"x":0.778,"y":0.0222},{"x":0.8,"y":0.0221},{"x":0.82,"y":0.022},{"x":0.84,"y":0.022},{"x":0.86,"y":0.0222},{"x":0.88,"y":0.0224},{"x":0.9,"y":0.0226},{"x":0.92,"y":0.0229},{"x":0.944,"y":0.0233},{"x":0.97,"y":0.0238},{"x":1.0,"y":0.0242}],
"c_pid": [{"x":0.004,"y":0.096},{"x":0.007,"y":0.08},{"x":0.01,"y":0.0571},{"x":0.013,"y":0.04},{"x":0.017,"y":0.0264},{"x":0.021,"y":0.0215},{"x":0.025,"y":0.0198},{"x":0.029,"y":0.0188},{"x":0.033,"y":0.0185},{"x":0.037,"y":0.019},{"x":0.041,"y":0.0201},{"x":0.045,"y":0.0195},{"x":0.048,"y":0.019},{"x":0.052,"y":0.0196},{"x":0.058,"y":0.0211},{"x":0.063,"y":0.0205},{"x":0.07,"y":0.0207},{"x":0.075,"y":0.0212},{"x":0.083,"y":0.0216},{"x":0.09,"y":0.0213},{"x":0.1,"y":0.0216},{"x":0.108,"y":0.0213},{"x":0.116,"y":0.0214},{"x":0.124,"y":0.0219},{"x":0.132,"y":0.0214},{"x":0.14,"y":0.0217},{"x":0.149,"y":0.0219},{"x":0.157,"y":0.0212},{"x":0.166,"y":0.0211},{"x":0.18,"y":0.021},{"x":0.2,"y":0.0211},{"x":0.22,"y":0.0209},{"x":0.24,"y":0.0209},{"x":0.26,"y":0.0212},{"x":0.28,"y":0.0216},{"x":0.3,"y":0.0216},{"x":0.32,"y":0.0217},{"x":0.34,"y":0.0218},{"x":0.364,"y":0.0217},{"x":0.38,"y":0.022},{"x":0.405,"y":0.0224},{"x":0.43,"y":0.0226},{"x":0.447,"y":0.0229},{"x":0.49,"y":0.0229},{"x":0.53,"y":0.023},{"x":0.57,"y":0.0231},{"x":0.613,"y":0.0231},{"x":0.65,"y":0.0232},{"x":0.695,"y":0.0232},{"x":0.74,"y":0.0233},{"x":0.778,"y":0.0234},{"x":0.82,"y":0.0234},{"x":0.86,"y":0.0235},{"x":0.9,"y":0.0235},{"x":0.944,"y":0.0236},{"x":1.0,"y":0.0237}],
"c_trpo": [{"x":0.004,"y":0.0698},{"x":0.008,"y":0.06},{"x":0.012,"y":0.0518},{"x":0.016,"y":0.045},{"x":0.021,"y":0.0396},{"x":0.027,"y":0.0345},{"x":0.033,"y":0.0308},{"x":0.039,"y":0.028},{"x":0.045,"y":0.026},{"x":0.05,"y":0.0245},{"x":0.058,"y":0.0229},{"x":0.066,"y":0.0216},{"x":0.075,"y":0.0207},{"x":0.085,"y":0.02},{"x":0.1,"y":0.0194},{"x":0.112,"y":0.019},{"x":0.124,"y":0.0188},{"x":0.14,"y":0.0189},{"x":0.157,"y":0.019},{"x":0.17,"y":0.0193},{"x":0.182,"y":0.0196},{"x":0.2,"y":0.0202},{"x":0.215,"y":0.0209},{"x":0.23,"y":0.0213},{"x":0.248,"y":0.0216},{"x":0.265,"y":0.0216},{"x":0.28,"y":0.0216},{"x":0.3,"y":0.0213},{"x":0.32,"y":0.0209},{"x":0.34,"y":0.0206},{"x":0.364,"y":0.0205},{"x":0.385,"y":0.0206},{"x":0.405,"y":0.0207},{"x":0.425,"y":0.0209},{"x":0.447,"y":0.0211},{"x":0.47,"y":0.0213},{"x":0.488,"y":0.0215},{"x":0.51,"y":0.0218},{"x":0.53,"y":0.022},{"x":0.55,"y":0.0222},{"x":0.57,"y":0.0224},{"x":0.59,"y":0.0227},{"x":0.613,"y":0.0229},{"x":0.634,"y":0.023},{"x":0.654,"y":0.0231},{"x":0.675,"y":0.0232},{"x":0.695,"y":0.0233},{"x":0.74,"y":0.0233},{"x":0.778,"y":0.0233},{"x":0.82,"y":0.0232},{"x":0.86,"y":0.023},{"x":0.9,"y":0.023},{"x":0.944,"y":0.0229},{"x":1.0,"y":0.0227}],
"d_ppo": [{"x":0.005,"y":0},{"x":0.5,"y":0},{"x":1.0,"y":0}],
"d_lag": [{"x":0.002,"y":1.05},{"x":0.026,"y":1.24},{"x":0.06,"y":1.53},{"x":0.084,"y":1.62},{"x":0.109,"y":1.59},{"x":0.13,"y":1.48},{"x":0.15,"y":1.34},{"x":0.17,"y":1.15},{"x":0.19,"y":0.96},{"x":0.21,"y":0.8},{"x":0.233,"y":0.67},{"x":0.254,"y":0.55},{"x":0.274,"y":0.44},{"x":0.295,"y":0.36},{"x":0.316,"y":0.29},{"x":0.337,"y":0.25},{"x":0.357,"y":0.23},{"x":0.378,"y":0.24},{"x":0.398,"y":0.29},{"x":0.42,"y":0.37},{"x":0.44,"y":0.48},{"x":0.46,"y":0.61},{"x":0.48,"y":0.76},{"x":0.5,"y":0.92},{"x":0.52,"y":1.09},{"x":0.542,"y":1.23},{"x":0.564,"y":1.34},{"x":0.58,"y":1.4},{"x":0.597,"y":1.43},{"x":0.613,"y":1.41},{"x":0.63,"y":1.34},{"x":0.65,"y":1.22},{"x":0.671,"y":1.05},{"x":0.69,"y":0.88},{"x":0.712,"y":0.71},{"x":0.733,"y":0.56},{"x":0.754,"y":0.44},{"x":0.775,"y":0.35},{"x":0.795,"y":0.29},{"x":0.815,"y":0.25},{"x":0.836,"y":0.23},{"x":0.857,"y":0.22},{"x":0.878,"y":0.23},{"x":0.9,"y":0.25},{"x":0.919,"y":0.29},{"x":0.94,"y":0.4},{"x":0.96,"y":0.57},{"x":0.98,"y":0.72},{"x":1.0,"y":0.86}],
"d_pid": [{"x":0.003,"y":16.7},{"x":0.01,"y":0},{"x":0.034,"y":0},{"x":0.039,"y":3.7},{"x":0.043,"y":0},{"x":0.051,"y":0.86},{"x":0.057,"y":6.0},{"x":0.063,"y":0},{"x":0.069,"y":2.4},{"x":0.074,"y":0},{"x":0.08,"y":2.2},{"x":0.084,"y":2.8},{"x":0.089,"y":0},{"x":0.096,"y":1.2},{"x":0.102,"y":0},{"x":0.114,"y":1.8},{"x":0.12,"y":0},{"x":0.129,"y":0},{"x":0.134,"y":1.66},{"x":0.139,"y":0.48},{"x":0.146,"y":2.8},{"x":0.152,"y":0},{"x":0.17,"y":0},{"x":0.172,"y":1.2},{"x":0.178,"y":0},{"x":0.189,"y":3.5},{"x":0.194,"y":0},{"x":0.2,"y":4.0},{"x":0.207,"y":0},{"x":0.227,"y":0},{"x":0.23,"y":1.24},{"x":0.235,"y":0},{"x":0.248,"y":0},{"x":0.254,"y":1.15},{"x":0.26,"y":1.43},{"x":0.264,"y":0},{"x":0.272,"y":0},{"x":0.28,"y":7.0},{"x":0.287,"y":4.7},{"x":0.293,"y":0},{"x":0.313,"y":0},{"x":0.317,"y":0.3},{"x":0.325,"y":0},{"x":0.332,"y":1.6},{"x":0.338,"y":0},{"x":0.358,"y":0},{"x":0.362,"y":0.86},{"x":0.366,"y":2.4},{"x":0.37,"y":1.43},{"x":0.375,"y":1.6},{"x":0.38,"y":3.4},{"x":0.385,"y":0.48},{"x":0.391,"y":0.76},{"x":0.399,"y":0.67},{"x":0.403,"y":2.4},{"x":0.407,"y":1.05},{"x":0.413,"y":2.3},{"x":0.418,"y":0.57},{"x":0.424,"y":2.0},{"x":0.428,"y":0.67},{"x":0.432,"y":6.6},{"x":0.436,"y":5.8},{"x":0.439,"y":6.9},{"x":0.442,"y":3.0},{"x":0.444,"y":3.9},{"x":0.448,"y":2.8},{"x":0.454,"y":1.43},{"x":0.461,"y":1.05},{"x":0.469,"y":0},{"x":0.477,"y":1.24},{"x":0.484,"y":0},{"x":0.49,"y":0.3},{"x":0.497,"y":1.24},{"x":0.503,"y":0.5},{"x":0.51,"y":3.5},{"x":0.514,"y":1.4},{"x":0.518,"y":3.7},{"x":0.522,"y":2.8},{"x":0.526,"y":4.9},{"x":0.53,"y":3.5},{"x":0.535,"y":6.0},{"x":0.539,"y":4.7},{"x":0.543,"y":3.5},{"x":0.547,"y":4.3},{"x":0.551,"y":0},{"x":0.556,"y":0},{"x":0.568,"y":0},{"x":0.572,"y":1.24},{"x":0.576,"y":1.53},{"x":0.58,"y":0.48},{"x":0.584,"y":0.86},{"x":0.592,"y":0},{"x":0.601,"y":1.15},{"x":0.605,"y":0},{"x":0.63,"y":0},{"x":0.634,"y":0.67},{"x":0.638,"y":0},{"x":0.651,"y":0.48},{"x":0.659,"y":1.05},{"x":0.665,"y":0},{"x":0.669,"y":2.4},{"x":0.673,"y":0},{"x":0.684,"y":0},{"x":0.69,"y":0.86},{"x":0.696,"y":0.67},{"x":0.702,"y":3.9},{"x":0.707,"y":1.24},{"x":0.713,"y":2.3},{"x":0.718,"y":1.24},{"x":0.721,"y":0},{"x":0.729,"y":0},{"x":0.736,"y":0.67},{"x":0.742,"y":0},{"x":0.75,"y":0},{"x":0.758,"y":1.43},{"x":0.764,"y":0.86},{"x":0.769,"y":0},{"x":0.775,"y":1.24},{"x":0.781,"y":0.67},{"x":0.787,"y":2.0},{"x":0.792,"y":0},{"x":0.804,"y":0},{"x":0.814,"y":0.48},{"x":0.819,"y":0},{"x":0.825,"y":2.0},{"x":0.829,"y":1.62},{"x":0.833,"y":2.3},{"x":0.837,"y":1.43},{"x":0.843,"y":2.2},{"x":0.85,"y":3.0},{"x":0.854,"y":0},{"x":0.861,"y":2.4},{"x":0.866,"y":2.2},{"x":0.869,"y":2.5},{"x":0.874,"y":3.15},{"x":0.879,"y":0.86},{"x":0.885,"y":0.48},{"x":0.892,"y":0},{"x":0.904,"y":0},{"x":0.911,"y":0.86},{"x":0.917,"y":0.29},{"x":0.922,"y":1.24},{"x":0.929,"y":1.62},{"x":0.934,"y":2.4},{"x":0.939,"y":2.0},{"x":0.946,"y":3.9},{"x":0.951,"y":1.24},{"x":0.956,"y":0},{"x":0.979,"y":0},{"x":0.984,"y":1.81},{"x":0.989,"y":3.05},{"x":0.993,"y":2.4},{"x":0.997,"y":2.6},{"x":1.0,"y":1.9}],
"d_trpo": [{"x":0.002,"y":1.0},{"x":0.02,"y":1.12},{"x":0.035,"y":1.2},{"x":0.06,"y":1.24},{"x":0.084,"y":1.17},{"x":0.105,"y":1.07},{"x":0.126,"y":0.96},{"x":0.147,"y":0.84},{"x":0.167,"y":0.73},{"x":0.188,"y":0.66},{"x":0.208,"y":0.63},{"x":0.23,"y":0.64},{"x":0.25,"y":0.67},{"x":0.267,"y":0.72},{"x":0.283,"y":0.75},{"x":0.3,"y":0.72},{"x":0.316,"y":0.67},{"x":0.337,"y":0.57},{"x":0.357,"y":0.48},{"x":0.378,"y":0.42},{"x":0.398,"y":0.38},{"x":0.42,"y":0.37},{"x":0.44,"y":0.38},{"x":0.46,"y":0.41},{"x":0.48,"y":0.44},{"x":0.5,"y":0.46},{"x":0.52,"y":0.48},{"x":0.542,"y":0.51},{"x":0.564,"y":0.55},{"x":0.585,"y":0.62},{"x":0.605,"y":0.71},{"x":0.625,"y":0.83},{"x":0.646,"y":0.96},{"x":0.667,"y":1.08},{"x":0.688,"y":1.2},{"x":0.708,"y":1.3},{"x":0.729,"y":1.39},{"x":0.75,"y":1.45},{"x":0.77,"y":1.49},{"x":0.79,"y":1.47},{"x":0.81,"y":1.43},{"x":0.83,"y":1.36},{"x":0.853,"y":1.28},{"x":0.873,"y":1.19},{"x":0.894,"y":1.09},{"x":0.915,"y":0.99},{"x":0.936,"y":0.9},{"x":0.955,"y":0.82},{"x":0.969,"y":0.76},{"x":0.985,"y":0.73},{"x":1.0,"y":0.71}]
},
"spacing": 16,
"resolve": {"scale": {"x": "independent", "y": "independent", "color": "independent"}, "axis": {"x": "independent", "y": "independent"}, "legend": {"color": "independent"}},
"vconcat": [
 {"spacing": 30,
  "resolve": {"scale": {"x": "independent", "y": "independent", "color": "independent"}, "axis": {"x": "independent", "y": "independent"}, "legend": {"color": "independent"}},
  "hconcat": [
  {"width": 440, "height": 324, "title": {"text": "(a) Average Episodic Return"},
   "layer": [
    {"data": {"name": "a_ppo"}, "mark": "line", "encoding": {
      "x": {"field": "x", "type": "quantitative", "scale": {"domain": [-0.05, 1.05], "nice": false, "zero": false}, "axis": {"title": "Steps", "values": [0, 0.2, 0.4, 0.6, 0.8, 1], "format": ".1f"}},
      "y": {"field": "y", "type": "quantitative", "scale": {"domain": [-25.6, 25.8], "nice": false, "zero": false}, "axis": {"title": "Reward", "values": [-20, -10, 0, 10, 20], "format": "d"}},
      "color": {"datum": "PPO_PointGoal1", "scale": {"domain": ["PPO_PointGoal1", "PPO-Lagrangian_PointGoal1", "PPO-PID_PointGoal1", "trpo_lagrangian_PointGoal1"], "range": ["#4C72B0", "#DD8452", "#55A868", "#C44E52"]}, "legend": {"title": null, "orient": "none", "legendX": 195, "legendY": 225, "symbolType": "M-2,0H2"}}}},
    {"data": {"name": "a_lag"}, "mark": "line", "encoding": {"x": {"field": "x", "type": "quantitative"}, "y": {"field": "y", "type": "quantitative"}, "color": {"datum": "PPO-Lagrangian_PointGoal1"}}},
    {"data": {"name": "a_pid"}, "mark": "line", "encoding": {"x": {"field": "x", "type": "quantitative"}, "y": {"field": "y", "type": "quantitative"}, "color": {"datum": "PPO-PID_PointGoal1"}}},
    {"data": {"name": "a_trpo"}, "mark": "line", "encoding": {"x": {"field": "x", "type": "quantitative"}, "y": {"field": "y", "type": "quantitative"}, "color": {"datum": "trpo_lagrangian_PointGoal1"}}},
    {"data": {"values": [{}]}, "mark": {"type": "text", "text": "1e7", "align": "right", "baseline": "alphabetic", "dy": 38, "font": "DejaVu Sans", "fontSize": 12, "color": "#262626"}, "encoding": {"x": {"datum": 1.05}, "y": {"datum": -25.6}}}
   ]},
  {"width": 443, "height": 323, "title": {"text": "(b) Average Episodic Cost"},
   "layer": [
    {"data": {"name": "b_ppo"}, "mark": "line", "encoding": {
      "x": {"field": "x", "type": "quantitative", "scale": {"domain": [-0.05, 1.05], "nice": false, "zero": false}, "axis": {"title": "Steps", "values": [0, 0.2, 0.4, 0.6, 0.8, 1], "format": ".1f"}},
      "y": {"field": "y", "type": "quantitative", "scale": {"domain": [-3, 127.1], "nice": false, "zero": false}, "axis": {"title": "Cost", "values": [0, 20, 40, 60, 80, 100, 120], "format": "d"}},
      "color": {"datum": "PPO_PointGoal1", "scale": {"domain": ["PPO_PointGoal1", "PPO-Lagrangian_PointGoal1", "PPO-PID_PointGoal1", "trpo_lagrangian_PointGoal1"], "range": ["#4C72B0", "#DD8452", "#55A868", "#C44E52"]}, "legend": {"title": null, "orient": "none", "legendX": 197, "legendY": 6, "symbolType": "M-2,0H2"}}}},
    {"data": {"name": "b_lag"}, "mark": "line", "encoding": {"x": {"field": "x", "type": "quantitative"}, "y": {"field": "y", "type": "quantitative"}, "color": {"datum": "PPO-Lagrangian_PointGoal1"}}},
    {"data": {"name": "b_pid"}, "mark": "line", "encoding": {"x": {"field": "x", "type": "quantitative"}, "y": {"field": "y", "type": "quantitative"}, "color": {"datum": "PPO-PID_PointGoal1"}}},
    {"data": {"name": "b_trpo"}, "mark": "line", "encoding": {"x": {"field": "x", "type": "quantitative"}, "y": {"field": "y", "type": "quantitative"}, "color": {"datum": "trpo_lagrangian_PointGoal1"}}},
    {"data": {"values": [{}]}, "mark": {"type": "text", "text": "1e7", "align": "right", "baseline": "alphabetic", "dy": 38, "font": "DejaVu Sans", "fontSize": 12, "color": "#262626"}, "encoding": {"x": {"datum": 1.05}, "y": {"datum": -3}}}
   ]}
 ]},
 {"spacing": 30,
  "resolve": {"scale": {"x": "independent", "y": "independent", "color": "independent"}, "axis": {"x": "independent", "y": "independent"}, "legend": {"color": "independent"}},
  "hconcat": [
  {"width": 439, "height": 322, "title": {"text": "(c) Cost Rate"},
   "layer": [
    {"data": {"name": "c_ppo"}, "mark": "line", "encoding": {
      "x": {"field": "x", "type": "quantitative", "scale": {"domain": [-0.05, 1.05], "nice": false, "zero": false}, "axis": {"title": "Steps", "values": [0, 0.2, 0.4, 0.6, 0.8, 1], "format": ".1f"}},
      "y": {"field": "y", "type": "quantitative", "scale": {"domain": [0.0146, 0.0995], "nice": false, "zero": false}, "axis": {"title": "CostRate", "values": [0.02, 0.03, 0.04, 0.05, 0.06, 0.07, 0.08, 0.09], "format": ".2f"}},
      "color": {"datum": "PPO_PointGoal1", "scale": {"domain": ["PPO_PointGoal1", "PPO-Lagrangian_PointGoal1", "PPO-PID_PointGoal1", "trpo_lagrangian_PointGoal1"], "range": ["#4C72B0", "#DD8452", "#55A868", "#C44E52"]}, "legend": {"title": null, "orient": "none", "legendX": 194, "legendY": 116, "symbolType": "M-2,0H2"}}}},
    {"data": {"name": "c_lag"}, "mark": "line", "encoding": {"x": {"field": "x", "type": "quantitative"}, "y": {"field": "y", "type": "quantitative"}, "color": {"datum": "PPO-Lagrangian_PointGoal1"}}},
    {"data": {"name": "c_pid"}, "mark": "line", "encoding": {"x": {"field": "x", "type": "quantitative"}, "y": {"field": "y", "type": "quantitative"}, "color": {"datum": "PPO-PID_PointGoal1"}}},
    {"data": {"name": "c_trpo"}, "mark": "line", "encoding": {"x": {"field": "x", "type": "quantitative"}, "y": {"field": "y", "type": "quantitative"}, "color": {"datum": "trpo_lagrangian_PointGoal1"}}},
    {"data": {"values": [{}]}, "mark": {"type": "text", "text": "1e7", "align": "right", "baseline": "alphabetic", "dy": 38.7, "font": "DejaVu Sans", "fontSize": 12, "color": "#262626"}, "encoding": {"x": {"datum": 1.05}, "y": {"datum": 0.0146}}}
   ]},
  {"width": 439, "height": 318, "title": {"text": "(d) Penalty"},
   "layer": [
    {"data": {"name": "d_ppo"}, "mark": "line", "encoding": {
      "x": {"field": "x", "type": "quantitative", "scale": {"domain": [-0.05, 1.05], "nice": false, "zero": false}, "axis": {"title": "Steps", "values": [0, 0.2, 0.4, 0.6, 0.8, 1], "format": ".1f"}},
      "y": {"field": "y", "type": "quantitative", "scale": {"domain": [-0.77, 17.52], "nice": false, "zero": false}, "axis": {"title": "Penalty", "values": [0, 2.5, 5, 7.5, 10, 12.5, 15, 17.5], "format": ".1f"}},
      "color": {"datum": "PPO_PointGoal1", "scale": {"domain": ["PPO_PointGoal1", "PPO-Lagrangian_PointGoal1", "PPO-PID_PointGoal1", "trpo_lagrangian_PointGoal1"], "range": ["#4C72B0", "#DD8452", "#55A868", "#C44E52"]}, "legend": {"title": null, "orient": "none", "legendX": 194, "legendY": 7, "symbolType": "M-2,0H2"}}}},
    {"data": {"name": "d_lag"}, "mark": "line", "encoding": {"x": {"field": "x", "type": "quantitative"}, "y": {"field": "y", "type": "quantitative"}, "color": {"datum": "PPO-Lagrangian_PointGoal1"}}},
    {"data": {"name": "d_pid"}, "mark": "line", "encoding": {"x": {"field": "x", "type": "quantitative"}, "y": {"field": "y", "type": "quantitative"}, "color": {"datum": "PPO-PID_PointGoal1"}}},
    {"data": {"name": "d_trpo"}, "mark": "line", "encoding": {"x": {"field": "x", "type": "quantitative"}, "y": {"field": "y", "type": "quantitative"}, "color": {"datum": "trpo_lagrangian_PointGoal1"}}},
    {"data": {"values": [{}]}, "mark": {"type": "text", "text": "1e7", "align": "right", "baseline": "alphabetic", "dy": 38.7, "font": "DejaVu Sans", "fontSize": 12, "color": "#262626"}, "encoding": {"x": {"datum": 1.05}, "y": {"datum": -0.77}}}
   ]}
 ]}
]
}
